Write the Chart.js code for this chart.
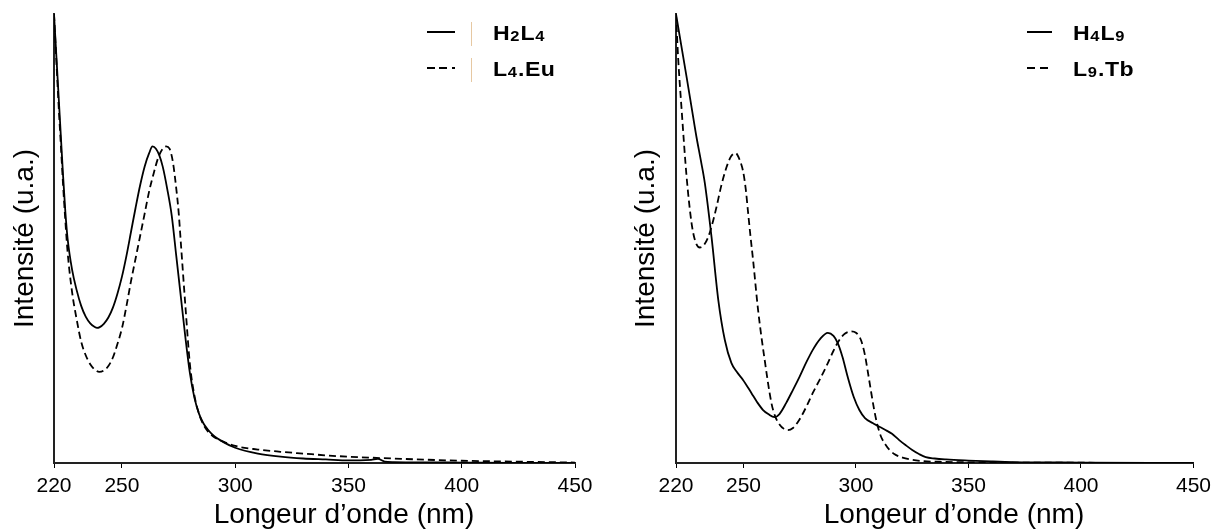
<!DOCTYPE html>
<html>
<head>
<meta charset="utf-8">
<script src="https://cdn.jsdelivr.net/npm/chart.js@4.4.1/dist/chart.umd.min.js"></script>
<style>
  html, body { margin: 0; padding: 0; background: #fff; }
  .panel { position: absolute; top: 0; height: 531px; }
  #left { left: 0; width: 608px; }
  #right { left: 608px; width: 609px; }
</style>
</head>
<body>
<div class="panel" id="left"><canvas id="chartLeft"></canvas></div>
<div class="panel" id="right"><canvas id="chartRight"></canvas></div>
<script>
// x axis ticks (nm)
const xTicks = [220, 250, 300, 350, 400, 450];

// left panel : H2L4 (solid)
const h2l4Wl = [220, 221, 222, 223, 224, 225, 226, 228, 230, 232, 234, 236, 238, 239, 240, 242, 244, 246, 248, 250,
  252, 254, 256, 258, 260, 262, 263.5, 265, 266.5, 268, 270, 272, 274, 276, 278, 280, 282, 284, 286, 288, 290,
  295, 300, 310, 320, 330, 340, 350, 355, 360, 363, 366, 370, 380, 400, 420, 450];
const h2l4Int = [100, 91, 82, 73, 64, 56, 50, 43, 38.5, 35, 32.6, 31.1, 30.3, 30.1, 30.2, 31, 32.4, 34.6, 37.7, 41.5,
  46.2, 51.5, 56.8, 61.8, 66, 69, 70.5, 70, 68.5, 66, 61, 55, 46, 37, 28, 20, 14.5, 11, 8.8, 7.4, 6.3,
  4.6, 3.4, 2.1, 1.4, 1.0, 0.8, 0.6, 0.6, 0.7, 0.9, 0.3, 0.2, 0.15, 0.1, 0.05, 0];

// left panel : L4.Eu (dashed)
const l4euWl = [220, 221, 222, 223, 224, 225, 226, 228, 230, 232, 234, 236, 238, 240, 242, 244, 246, 248, 250,
  252, 254, 256, 258, 260, 262, 264, 266, 268, 269.5, 271, 272.5, 274, 275, 276, 278, 280, 282, 284, 286, 288, 290,
  295, 300, 310, 320, 330, 343, 350, 375, 400, 425, 450];
const l4euInt = [100, 90, 80, 71, 62, 54, 47, 38, 32, 27, 24, 22, 20.8, 20.3, 20.6, 21.6, 23.5, 26.5, 30,
  35, 40.5, 45.5, 50.5, 55.5, 60.5, 64.5, 68, 70, 70.5, 70, 67, 61, 56, 49, 35, 22, 15, 11, 8.5, 7, 6,
  4.7, 3.8, 3.0, 2.5, 2.1, 1.6, 1.4, 0.9, 0.5, 0.3, 0.1];

// right panel : H4L9 (solid)
const h4l9Wl = [220, 222, 224.7, 227, 229.1, 231, 232.8, 235.8, 238.8, 241.7, 244.6, 247, 249.8, 253.5, 256, 258.7,
  261, 263.8, 266, 269, 272, 274.9, 278, 280.8, 284, 287.5, 290, 291.9, 294, 296.3, 299, 301.5, 304, 307.4, 310,
  313.3, 316, 319.2, 322, 325, 328, 331, 335, 340, 350, 360, 370, 400, 450];
const h4l9Int = [100, 94, 86, 79, 72.6, 67.5, 62.4, 50.3, 36.3, 27.4, 22.3, 20.3, 18.5, 15.6, 13.6, 11.8,
  10.9, 10.2, 10.9, 13.4, 16.3, 19.2, 22.5, 25.2, 27.6, 29, 28.3, 26.7, 23.6, 19.2, 14.7, 11.8, 10, 8.9, 8.2,
  7.3, 6.5, 5.1, 4, 2.9, 2, 1.3, 1, 0.8, 0.55, 0.35, 0.2, 0.1, 0];

// right panel : L9.Tb (dashed)
const l9tbWl = [220, 221, 222.5, 224.7, 226.9, 228.5, 230.6, 232.5, 234.3, 236, 238, 240, 242.4, 244.5, 246.5,
  248.3, 249.8, 251, 252, 253, 254.3, 256.5, 259.4, 262.4, 264, 266, 268, 269.7, 272, 274.9, 278, 280.8, 284,
  286.7, 290, 292.6, 295, 297.8, 300, 302.2, 304, 305.1, 306.5, 308.1, 309.5, 311.1, 313, 314.8, 317, 320.7,
  325, 330, 340, 350, 370, 450];
const l9tbInt = [100, 89.8, 78.7, 63.8, 53.5, 49.5, 48, 48.6, 50.3, 53, 57, 61.5, 65.8, 68.3, 69,
  67.5, 65, 61, 56, 51, 45, 34, 23, 13.4, 10.5, 8.6, 7.6, 7.3, 7.8, 9.7, 12.6, 15.6, 18.7,
  21.4, 25, 27.4, 28.8, 29.3, 29, 27.4, 24, 20.8, 16.5, 11.8, 8.5, 5.9, 4.2, 3, 2, 1.2,
  0.7, 0.4, 0.25, 0.15, 0.1, 0];

const FONT = "'Liberation Sans', Arial, sans-serif";
const X_TITLE = "Longeur d’onde (nm)";

function pts(xs, ys) {
  return xs.map((x, i) => ({ x: x, y: ys[i] }));
}

function series(label, xs, ys, dashed) {
  return {
    label: label,
    data: pts(xs, ys),
    borderColor: "#000",
    borderWidth: 1.8,
    borderDash: dashed ? [7, 4] : [],
    pointRadius: 0,
    fill: false,
    cubicInterpolationMode: "monotone",
  };
}

// draws labels like "H₂L₄" with smaller subscript digits
function drawLabel(ctx, text, x, y) {
  const subs = "₀₁₂₃₄₅₆₇₈₉";
  ctx.save();
  ctx.translate(x, y);
  ctx.scale(1.1, 1);
  let cx = 0;
  for (const ch of text) {
    const k = subs.indexOf(ch);
    if (k >= 0) {
      ctx.font = "bold 15px " + FONT;
      ctx.fillText(String(k), cx, 1);
      cx += ctx.measureText(String(k)).width + 1;
    } else {
      ctx.font = "bold 21px " + FONT;
      ctx.fillText(ch, cx, 0);
      cx += ctx.measureText(ch).width + 0.5;
    }
  }
  ctx.restore();
}

const legendPlugin = {
  id: "sideLegend",
  afterDraw(chart, args, opts) {
    const ctx = chart.ctx;
    ctx.save();
    ctx.fillStyle = "#000";
    ctx.textBaseline = "alphabetic";
    chart.data.datasets.forEach((ds, i) => {
      const rowY = opts.rows[i];
      ctx.strokeStyle = "#000";
      ctx.lineWidth = 2;
      ctx.setLineDash(opts.dashes[i]);
      ctx.beginPath();
      ctx.moveTo(opts.x0, rowY);
      ctx.lineTo(opts.x1, rowY);
      ctx.stroke();
      ctx.setLineDash([]);
      drawLabel(ctx, ds.label, opts.textX, rowY + 8);
      if (opts.mark) {
        ctx.strokeStyle = "#e6c8a2";
        ctx.lineWidth = 1;
        ctx.beginPath();
        ctx.moveTo(opts.mark, rowY - 10);
        ctx.lineTo(opts.mark, rowY + 14);
        ctx.stroke();
      }
    });
    // x axis title, a bit right of centre like the original
    ctx.font = "27px " + FONT;
    ctx.textAlign = "center";
    ctx.translate(opts.titleX, 523);
    ctx.scale(1.04, 1);
    ctx.fillText(X_TITLE, 0, 0);
    ctx.restore();
  },
};

function makeChart(id, datasets, yWidth, yTitlePad, padRight, legend) {
  return new Chart(document.getElementById(id), {
    type: "line",
    data: { datasets: datasets },
    plugins: [legendPlugin],
    options: {
      responsive: true,
      maintainAspectRatio: false,
      animation: false,
      devicePixelRatio: 1,
      layout: { padding: { top: 14, left: 0, right: padRight, bottom: 0 } },
      plugins: {
        legend: { display: false },
        tooltip: { enabled: false },
        sideLegend: legend,
      },
      scales: {
        x: {
          type: "linear",
          min: 220,
          max: 450,
          afterBuildTicks: (s) => { s.ticks = xTicks.map((v) => ({ value: v })); },
          afterFit: (s) => { s.height = 68; },
          ticks: {
            font: { family: FONT, size: 21 },
            color: "#000",
            padding: 6,
            maxRotation: 0,
            autoSkip: false,
          },
          grid: { display: true, drawOnChartArea: false, drawTicks: true, tickLength: 5, color: "#000" },
          border: { display: true, color: "#222", width: 2 },
          title: { display: false },
        },
        y: {
          min: 0,
          max: 100,
          afterFit: (s) => { s.width = yWidth; },
          ticks: { display: false },
          grid: { display: false },
          border: { display: true, color: "#222", width: 2 },
          title: {
            display: true,
            text: "Intensité (u.a.)",
            font: { family: FONT, size: 28 },
            color: "#000",
            padding: { top: yTitlePad, bottom: 0 },
          },
        },
      },
    },
  });
}

makeChart("chartLeft", [
  series("H₂L₄", h2l4Wl, h2l4Int, false),
  series("L₄.Eu", l4euWl, l4euInt, true),
], 54, 8, 33, { x0: 427, x1: 455, textX: 493, rows: [32, 68], dashes: [[], [8, 4, 8, 5, 3, 100]], mark: 471.5, titleX: 344 });

makeChart("chartRight", [
  series("H₄L₉", h4l9Wl, h4l9Int, false),
  series("L₉.Tb", l9tbWl, l9tbInt, true),
], 68, 21, 21, { x0: 419, x1: 444, textX: 465, rows: [32, 68], dashes: [[], [8, 5, 8, 100]], mark: 0, titleX: 346 });
</script>
</body>
</html>
